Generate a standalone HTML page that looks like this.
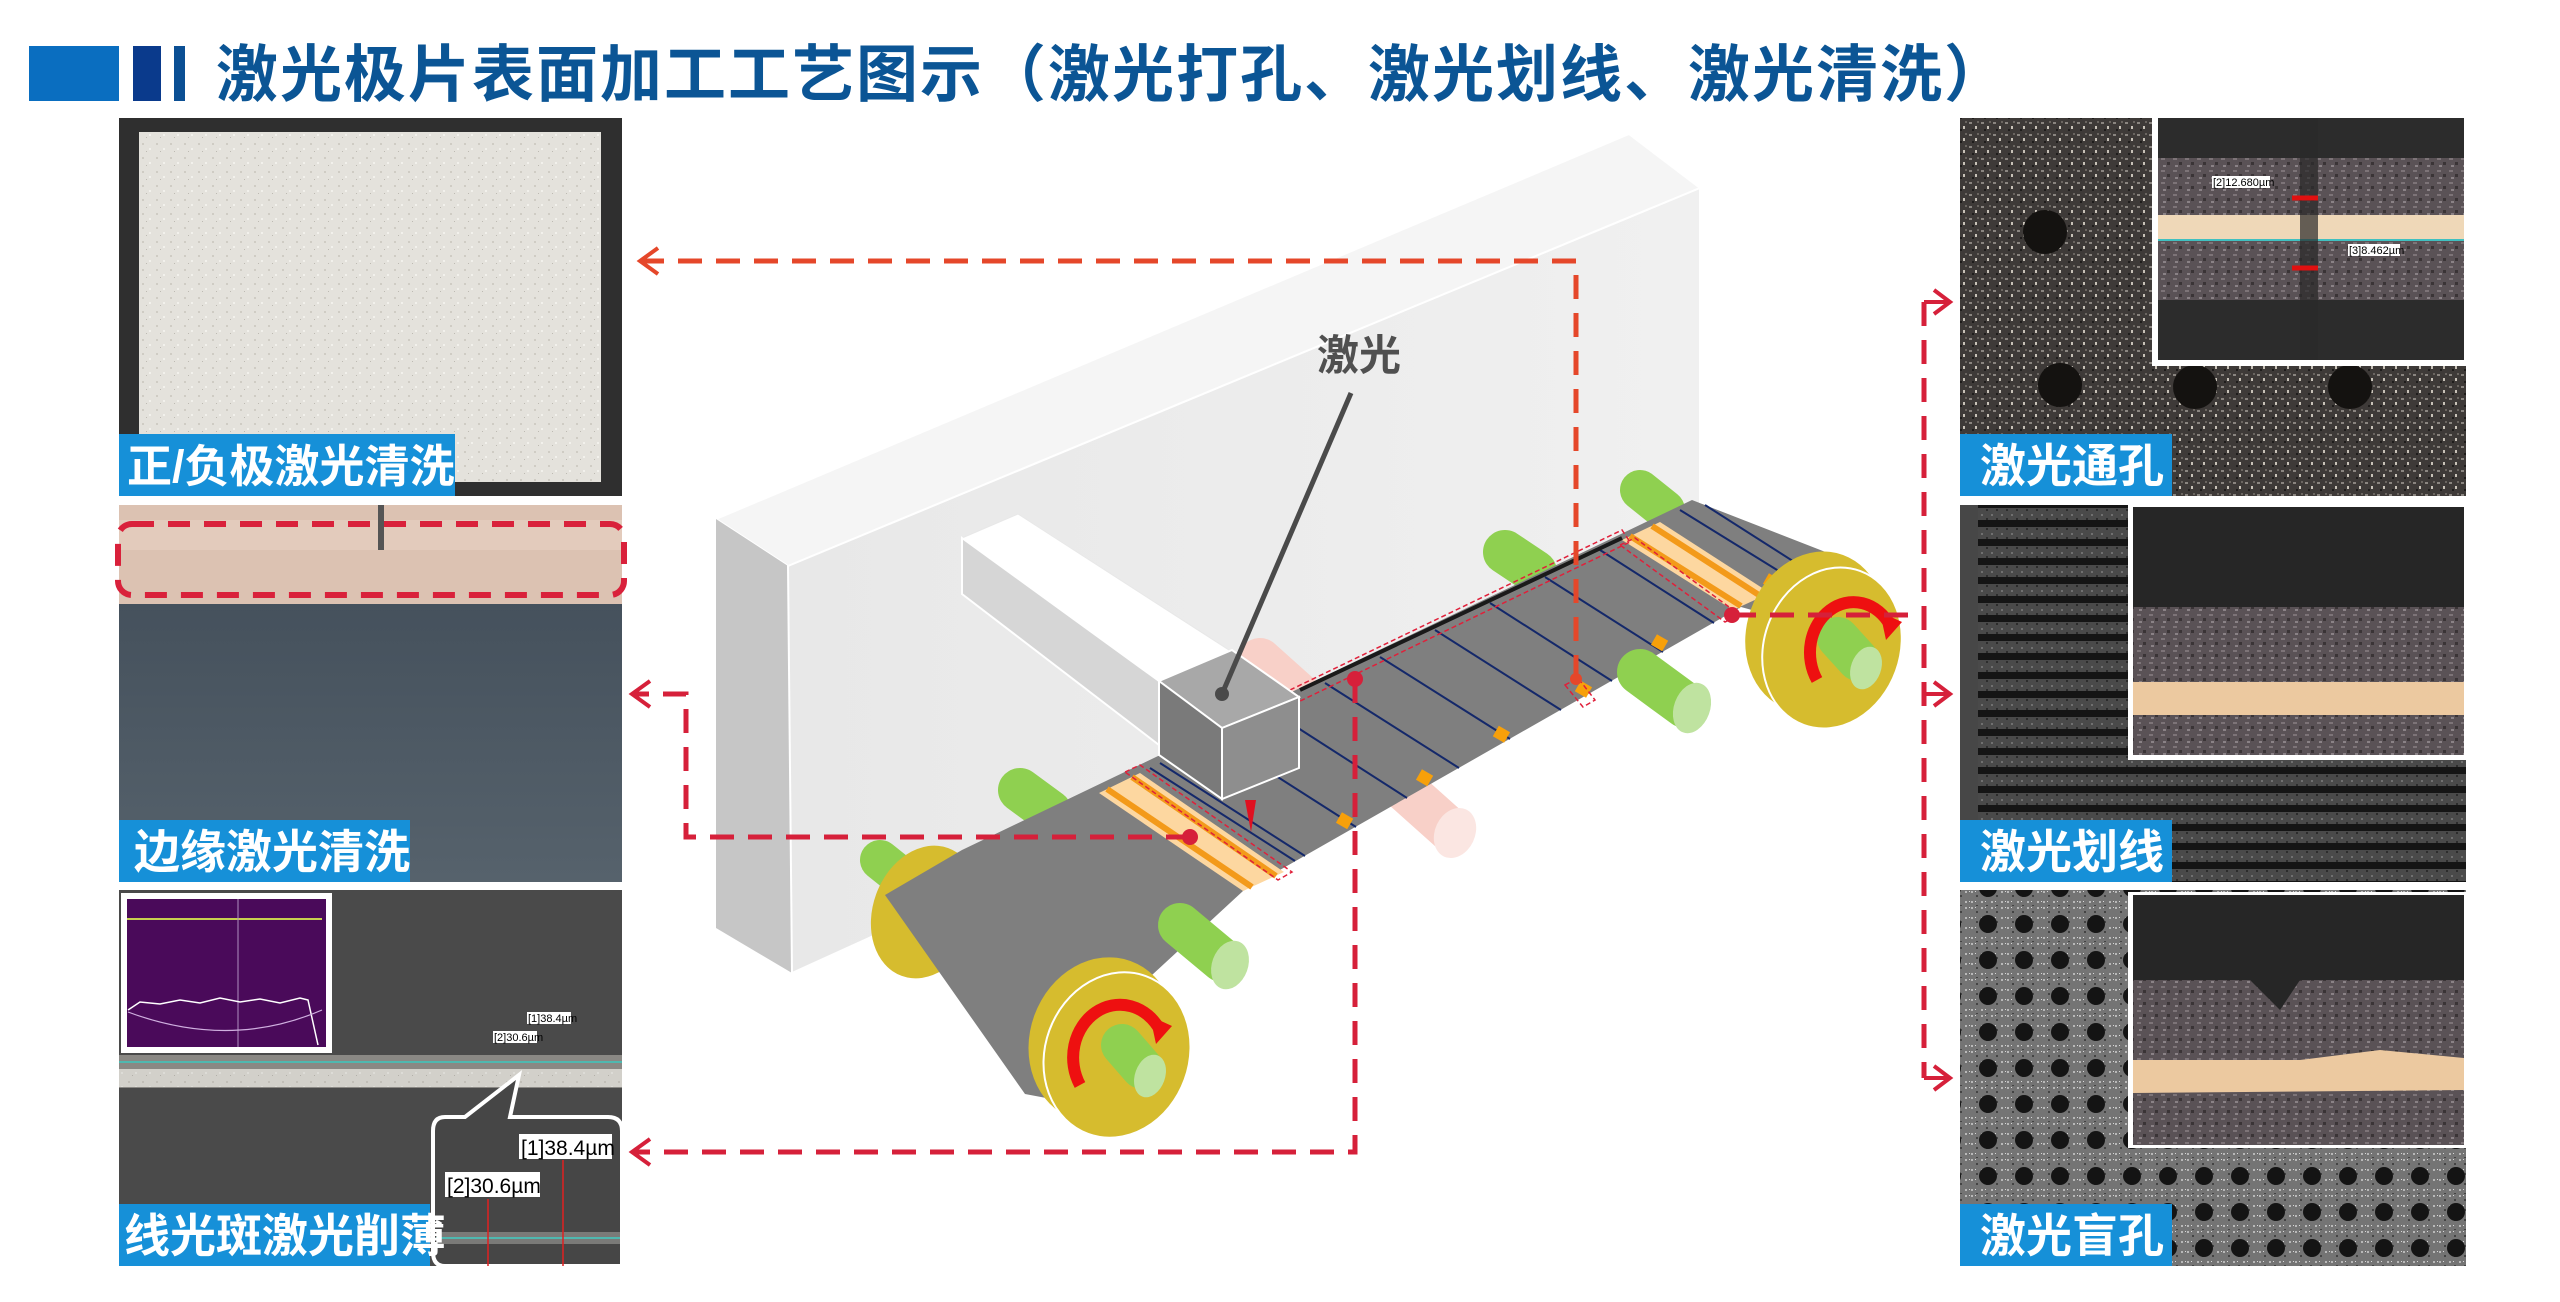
<!DOCTYPE html>
<html><head><meta charset="utf-8"><style>
html,body{margin:0;padding:0;background:#fff;}
body{width:2560px;height:1302px;overflow:hidden;}
svg{display:block;}
.cj{font-family:"Liberation Sans","Noto Sans CJK SC",sans-serif;font-weight:bold;}
.ms{font-family:"Liberation Sans","Noto Sans CJK SC",sans-serif;}
</style></head><body>
<svg width="2560" height="1302" viewBox="0 0 2560 1302" xmlns="http://www.w3.org/2000/svg">
<defs>
 <pattern id="spW" width="14" height="14" patternUnits="userSpaceOnUse">
  <rect width="14" height="14" fill="#e4e2dc"/><rect x="2" y="3" width="2" height="2" fill="#cfccc4"/><rect x="9" y="8" width="2" height="2" fill="#f2f1ec"/><rect x="6" y="11" width="1" height="1" fill="#bdbab2"/>
 </pattern>
 <pattern id="spD" width="12" height="12" patternUnits="userSpaceOnUse">
  <rect width="12" height="12" fill="#3e3a38"/><rect x="1" y="2" width="3" height="2" fill="#8a8580"/><rect x="7" y="6" width="2" height="3" fill="#c8c2b8"/><rect x="4" y="9" width="2" height="2" fill="#1e1c1b"/><rect x="9" y="1" width="2" height="2" fill="#6a6560"/>
 </pattern>
 <pattern id="spM" width="12" height="12" patternUnits="userSpaceOnUse">
  <rect width="12" height="12" fill="#5a5256"/><rect x="1" y="2" width="4" height="2" fill="#7d7478"/><rect x="7" y="6" width="3" height="3" fill="#3a3436"/><rect x="3" y="9" width="3" height="2" fill="#8a8286"/>
 </pattern>
 <pattern id="stripes" width="20" height="19" patternUnits="userSpaceOnUse">
  <rect width="20" height="19" fill="url(#spG)"/><rect y="7" width="20" height="7" fill="#151515"/>
 </pattern>
 <pattern id="spG" width="10" height="10" patternUnits="userSpaceOnUse">
  <rect width="10" height="10" fill="#4a4a4a"/><rect x="1" y="1" width="2" height="2" fill="#707070"/><rect x="6" y="5" width="2" height="2" fill="#2c2c2c"/>
 </pattern>
 <pattern id="dots" width="36" height="36" patternUnits="userSpaceOnUse" x="1970" y="870">
  <rect width="36" height="36" fill="url(#spL)"/><circle cx="18" cy="18" r="9" fill="#141414"/>
 </pattern>
 <pattern id="spL" width="10" height="10" patternUnits="userSpaceOnUse">
  <rect width="10" height="10" fill="#747474"/><rect x="1" y="1" width="2" height="2" fill="#b8b8b8"/><rect x="6" y="5" width="2" height="2" fill="#444"/><rect x="5" y="1" width="1" height="1" fill="#d8d8d8"/>
 </pattern>
 <linearGradient id="front" x1="0" y1="0" x2="1" y2="0"><stop offset="0" stop-color="#e8e8e8"/><stop offset="1" stop-color="#f0f0f0"/></linearGradient>
 <linearGradient id="slate" x1="0" y1="0" x2="0" y2="1"><stop offset="0" stop-color="#3f4b57"/><stop offset="1" stop-color="#56626c"/></linearGradient>
</defs>

<!-- Title -->
<rect x="29" y="46" width="90" height="55" fill="#0a6ec0"/>
<rect x="133" y="46" width="28" height="55" fill="#0a3a8c"/>
<rect x="174" y="46" width="11" height="55" fill="#0b4f94"/>
<text x="216" y="96" class="cj" font-size="62" fill="#0b5595" letter-spacing="2">激光极片表面加工工艺图示（激光打孔、激光划线、激光清洗）</text>

<!-- Left panel 1 -->
<rect x="119" y="118" width="503" height="378" fill="#2f2f2f"/>
<rect x="139" y="132" width="462" height="350" fill="url(#spW)"/>
<rect x="119" y="434" width="336" height="62" fill="#1690d8"/>
<text x="127" y="482" class="cj" font-size="45" fill="#fff">正/负极激光清洗</text>

<!-- Left panel 2 -->
<rect x="119" y="505" width="503" height="377" fill="url(#slate)"/>
<rect x="119" y="505" width="503" height="99" fill="#dcc2b2"/>
<rect x="119" y="520" width="503" height="30" fill="#e6cfc0" opacity="0.7"/>
<rect x="378" y="505" width="6" height="45" fill="#555"/>
<rect x="118" y="524" width="506" height="71" rx="14" fill="none" stroke="#d9213b" stroke-width="6" stroke-dasharray="22 14"/>
<rect x="119" y="820" width="291" height="62" fill="#1690d8"/>
<text x="134" y="868" class="cj" font-size="46" fill="#fff">边缘激光清洗</text>

<!-- Left panel 3 -->
<rect x="119" y="890" width="503" height="376" fill="#4a4a4a"/>
<rect x="119" y="1055" width="503" height="33" fill="#8a8884"/>
<rect x="119" y="1069" width="503" height="18" fill="url(#spW)" opacity="0.8"/>
<line x1="119" y1="1062" x2="622" y2="1062" stroke="#4fb8b0" stroke-width="2"/>
<rect x="121" y="893" width="211" height="160" fill="#fff"/>
<rect x="127" y="899" width="199" height="148" fill="#4a0a5a"/>
<line x1="127" y1="919" x2="322" y2="919" stroke="#c8d050" stroke-width="2"/>
<line x1="238" y1="899" x2="238" y2="1047" stroke="#b090c0" stroke-width="1"/>
<polyline points="128,1010 140,1002 160,1004 180,1000 200,1003 220,998 240,1002 260,999 280,1003 300,998 308,1000 318,1045" fill="none" stroke="#fff" stroke-width="1.5"/>
<path d="M128 1012 Q 230 1050 322 1010" fill="none" stroke="#d0b0e0" stroke-width="1.2"/>
<rect x="527" y="1012" width="44" height="12" fill="#fff"/><text x="528" y="1022" class="ms" font-size="11" fill="#000">[1]38.4µm</text>
<rect x="493" y="1031" width="44" height="12" fill="#fff"/><text x="494" y="1041" class="ms" font-size="11" fill="#000">[2]30.6µm</text>
<path d="M445 1117 L465 1117 L519 1075 L510 1117 L608 1117 Q622 1117 622 1131 L622 1266 L445 1266 Q433 1266 433 1252 L433 1131 Q433 1117 445 1117 Z" fill="#464646" stroke="#fff" stroke-width="4"/>
<rect x="436" y="1232" width="184" height="12" fill="#7a7a78"/>
<line x1="436" y1="1238" x2="620" y2="1238" stroke="#4fb8b0" stroke-width="2"/>
<rect x="519" y="1134" width="93" height="25" fill="#fff"/><text x="521" y="1155" class="ms" font-size="21" fill="#000">[1]38.4µm</text>
<rect x="445" y="1172" width="95" height="25" fill="#fff"/><text x="447" y="1193" class="ms" font-size="21" fill="#000">[2]30.6µm</text>
<line x1="488" y1="1199" x2="488" y2="1266" stroke="#e02020" stroke-width="1.5"/>
<line x1="563" y1="1160" x2="563" y2="1266" stroke="#e02020" stroke-width="1.5"/>
<rect x="119" y="1204" width="311" height="62" fill="#1690d8"/>
<text x="124" y="1252" class="cj" font-size="46" fill="#fff">线光斑激光削薄</text>

<!-- Right panel 1 -->
<rect x="1960" y="118" width="506" height="378" fill="url(#spD)"/>
<circle cx="2045" cy="232" r="22" fill="#141210"/><circle cx="2060" cy="385" r="22" fill="#141210"/><circle cx="2195" cy="387" r="22" fill="#141210"/><circle cx="2350" cy="387" r="22" fill="#141210"/>
<rect x="2152" y="116" width="316" height="250" fill="#fff"/>
<rect x="2158" y="118" width="306" height="242" fill="url(#spM)"/>
<rect x="2158" y="118" width="306" height="40" fill="#2c2c2c"/>
<rect x="2158" y="300" width="306" height="60" fill="#2c2c2c"/>
<rect x="2158" y="215" width="306" height="24" fill="#efd8b8"/>
<line x1="2158" y1="240" x2="2464" y2="240" stroke="#40c0c0" stroke-width="2"/>
<rect x="2300" y="118" width="18" height="242" fill="#2a2a2a" opacity="0.7"/>
<rect x="2212" y="176" width="58" height="12" fill="#fff"/><text x="2213" y="186" class="ms" font-size="11" fill="#000">[2]12.680µm</text>
<rect x="2348" y="244" width="52" height="12" fill="#fff"/><text x="2349" y="254" class="ms" font-size="11" fill="#000">[3]8.462µm</text>
<path d="M2292 198 L2318 198 M2292 268 L2318 268" stroke="#e01010" stroke-width="5"/>
<rect x="1960" y="434" width="212" height="62" fill="#1690d8"/>
<text x="1980" y="482" class="cj" font-size="46" fill="#fff">激光通孔</text>

<!-- Right panel 2 -->
<rect x="1960" y="505" width="506" height="377" fill="url(#stripes)"/>
<rect x="1960" y="505" width="18" height="377" fill="#474747"/>
<rect x="2128" y="504" width="340" height="256" fill="#fff"/>
<rect x="2133" y="507" width="331" height="248" fill="url(#spM)"/>
<rect x="2133" y="507" width="331" height="100" fill="#262626"/>
<rect x="2133" y="682" width="331" height="33" fill="#ecc9a0"/>
<rect x="1960" y="820" width="212" height="62" fill="#1690d8"/>
<text x="1980" y="868" class="cj" font-size="46" fill="#fff">激光划线</text>

<!-- Right panel 3 -->
<rect x="1960" y="890" width="506" height="376" fill="url(#dots)"/>
<rect x="2128" y="892" width="342" height="256" fill="#fff"/>
<rect x="2133" y="895" width="331" height="250" fill="url(#spM)"/>
<path d="M2133 895 L2464 895 L2464 980 L2300 980 L2280 1010 L2250 980 L2133 980 Z" fill="#262626"/>
<path d="M2133 1060 L2300 1060 L2380 1050 L2464 1058 L2464 1090 L2133 1093 Z" fill="#ecc9a0"/>
<rect x="1960" y="1204" width="212" height="62" fill="#1690d8"/>
<text x="1980" y="1252" class="cj" font-size="46" fill="#fff">激光盲孔</text>

<!-- Machine board -->
<polygon points="716,519 1629,134 1700,188 788,566" fill="#f5f5f5" stroke="#fff" stroke-width="2"/>
<polygon points="716,519 788,566 792,973 716,928" fill="#c6c6c6"/>
<polygon points="788,566 1700,188 1700,560 792,973" fill="url(#front)" stroke="#fff" stroke-width="2"/>

<!-- arm -->
<polygon points="962,538 1018,514 1232,652 1159,681" fill="#ffffff" stroke="#e8e8e8" stroke-width="1"/>
<polygon points="962,538 1159,681 1159,745 962,594" fill="#d6d6d6" stroke="#fff" stroke-width="2"/>

<!-- rear rods -->
<g stroke-linecap="round">
 <line x1="880" y1="860" x2="905" y2="880" stroke="#8fd050" stroke-width="40"/>
 <line x1="1020" y1="790" x2="1050" y2="812" stroke="#8fd050" stroke-width="44"/>
 <line x1="1505" y1="552" x2="1535" y2="572" stroke="#8fd050" stroke-width="44"/>
 <line x1="1640" y1="490" x2="1665" y2="510" stroke="#8fd050" stroke-width="40"/>
 <line x1="1260" y1="660" x2="1450" y2="830" stroke="#f8d0c8" stroke-width="44"/>
</g>
<ellipse cx="1455" cy="833" rx="20" ry="26" transform="rotate(25 1455 833)" fill="#fbe6e2"/>

<!-- left rear roller disk -->
<ellipse cx="925" cy="912" rx="52" ry="68" transform="rotate(20 925 912)" fill="#d6bc2e"/>

<!-- belt -->
<polygon points="885,895 962,850 1692,500 1846,560 1860,640 1741,607 1243,891 1152,975 1110,1110 1025,1094" fill="#7f7f7f"/>
<!-- bands -->
<polygon points="1099,793 1140,773 1284,872 1243,891" fill="#fdd7a0"/>
<line x1="1107" y1="789" x2="1252" y2="887" stroke="#f39a1a" stroke-width="6"/>
<line x1="1132" y1="777" x2="1276" y2="876" stroke="#f39a1a" stroke-width="6"/>
<polygon points="1622,540 1660,522 1770,593 1733,610" fill="#fdd7a0"/>
<line x1="1630" y1="536" x2="1741" y2="606" stroke="#f39a1a" stroke-width="6"/>
<line x1="1652" y1="526" x2="1762" y2="597" stroke="#f39a1a" stroke-width="6"/>
<!-- blue lines -->
<g stroke="#14286a" stroke-width="2">
 <line x1="1150" y1="768" x2="1295" y2="861"/>
 <line x1="1160" y1="763" x2="1305" y2="856"/>
 <line x1="1215" y1="737" x2="1356" y2="827"/>
 <line x1="1270" y1="710" x2="1407" y2="798"/>
 <line x1="1325" y1="683" x2="1459" y2="768"/>
 <line x1="1380" y1="657" x2="1510" y2="739"/>
 <line x1="1435" y1="630" x2="1561" y2="710"/>
 <line x1="1490" y1="603" x2="1612" y2="681"/>
 <line x1="1545" y1="577" x2="1663" y2="652"/>
 <line x1="1600" y1="550" x2="1714" y2="623"/>
 <line x1="1680" y1="510" x2="1790" y2="578"/>
 <line x1="1705" y1="505" x2="1810" y2="572"/>
</g>
<line x1="1300" y1="690" x2="1622" y2="538" stroke="#1a1a1a" stroke-width="4"/>
<!-- orange squares -->
<g fill="#f7a00a">
 <rect x="1338" y="815" width="13" height="12" transform="rotate(30 1345 821)"/>
 <rect x="1418" y="772" width="13" height="12" transform="rotate(30 1425 778)"/>
 <rect x="1495" y="728" width="13" height="12" transform="rotate(30 1501 734)"/>
 <rect x="1577" y="683" width="13" height="12" transform="rotate(30 1583 689)"/>
 <rect x="1653" y="637" width="13" height="12" transform="rotate(30 1660 643)"/>
 <rect x="1765" y="576" width="13" height="12" transform="rotate(30 1772 582)"/>
</g>
<!-- thin dashed boxes -->
<g fill="none" stroke="#e0203a" stroke-width="1.5" stroke-dasharray="5 3">
 <polygon points="1125,772 1140,765 1292,872 1278,880"/>
 <polygon points="1290,690 1622,530 1630,542 1296,703"/>
 <polygon points="1620,545 1635,538 1740,615 1725,622"/>
 <polygon points="1565,685 1578,678 1595,700 1583,707"/>
</g>

<!-- front rods -->
<g stroke-linecap="round">
 <line x1="1180" y1="925" x2="1222" y2="960" stroke="#8fd050" stroke-width="44"/>
 <line x1="1640" y1="672" x2="1685" y2="705" stroke="#8fd050" stroke-width="46"/>
</g>
<ellipse cx="1230" cy="965" rx="18" ry="25" transform="rotate(20 1230 965)" fill="#bfe3a0"/>
<ellipse cx="1692" cy="708" rx="18" ry="26" transform="rotate(20 1692 708)" fill="#bfe3a0"/>

<!-- cube -->
<polygon points="1159,681 1232,650 1299,697 1222,728" fill="#a8a8a8" stroke="#fff" stroke-width="2"/>
<polygon points="1159,681 1222,728 1222,799 1159,755" fill="#7a7a7a" stroke="#fff" stroke-width="2"/>
<polygon points="1222,728 1299,697 1299,768 1222,799" fill="#8e8e8e" stroke="#fff" stroke-width="2"/>
<polygon points="1245,800 1256,800 1251,832" fill="#e01020"/>
<line x1="1351" y1="393" x2="1222" y2="694" stroke="#4a4a4a" stroke-width="5"/>
<circle cx="1222" cy="694" r="7" fill="#4a4a4a"/>
<text x="1317" y="370" class="cj" font-size="42" fill="#505050">激光</text>

<!-- right roller -->
<ellipse cx="1815" cy="632" rx="68" ry="82" transform="rotate(20 1815 632)" fill="#d6bc2e"/>
<ellipse cx="1832" cy="648" rx="68" ry="82" transform="rotate(20 1832 648)" fill="#d6bc2e" stroke="#fff" stroke-width="2"/>
<line x1="1838" y1="638" x2="1858" y2="660" stroke="#8fd050" stroke-width="42" stroke-linecap="round"/>
<ellipse cx="1866" cy="668" rx="15" ry="22" transform="rotate(20 1866 668)" fill="#bfe3a0"/>
<path d="M1817 680 A 38 44 0 0 1 1890 625" fill="none" stroke="#ee1010" stroke-width="12"/>
<polygon points="1880,612 1902,622 1886,640" fill="#ee1010"/>

<!-- front roller -->
<ellipse cx="1102" cy="1040" rx="72" ry="84" transform="rotate(20 1102 1040)" fill="#d6bc2e"/>
<ellipse cx="1117" cy="1055" rx="72" ry="84" transform="rotate(20 1117 1055)" fill="#d6bc2e" stroke="#fff" stroke-width="2"/>
<line x1="1122" y1="1045" x2="1142" y2="1068" stroke="#8fd050" stroke-width="42" stroke-linecap="round"/>
<ellipse cx="1150" cy="1076" rx="15" ry="22" transform="rotate(20 1150 1076)" fill="#bfe3a0"/>
<path d="M1080 1085 A 40 45 0 0 1 1160 1030" fill="none" stroke="#ee1010" stroke-width="12"/>
<polygon points="1150,1016 1172,1026 1156,1044" fill="#ee1010"/>

<!-- connectors -->
<g fill="none" stroke-width="5" stroke-dasharray="24 14">
 <polyline points="1576,679 1576,261 640,261" stroke="#e5472a"/>
 <polyline points="1190,837 686,837 686,694 632,694" stroke="#d6203a"/>
 <polyline points="1355,679 1355,1152 632,1152" stroke="#d6203a"/>
 <polyline points="1732,615 1924,615" stroke="#d6203a"/>
 <polyline points="1924,302 1924,1078" stroke="#d6203a"/>
</g>
<g fill="none" stroke-width="4">
 <polyline points="658,248 640,261 658,274" stroke="#e5472a"/>
 <polyline points="650,681 632,694 650,707" stroke="#d6203a"/>
 <polyline points="650,1139 632,1152 650,1165" stroke="#d6203a"/>
 <g stroke="#d6203a">
  <line x1="1924" y1="302" x2="1948" y2="302"/><polyline points="1934,290 1950,302 1934,314"/>
  <line x1="1924" y1="694" x2="1948" y2="694"/><polyline points="1934,682 1950,694 1934,706"/>
  <line x1="1924" y1="1078" x2="1948" y2="1078"/><polyline points="1934,1066 1950,1078 1934,1090"/>
 </g>
</g>
<circle cx="1190" cy="837" r="8" fill="#d6203a"/>
<circle cx="1355" cy="679" r="8" fill="#d6203a"/>
<circle cx="1732" cy="615" r="8" fill="#d6203a"/>
<circle cx="1576" cy="679" r="6" fill="#e5472a"/>
</svg>
</body></html>
